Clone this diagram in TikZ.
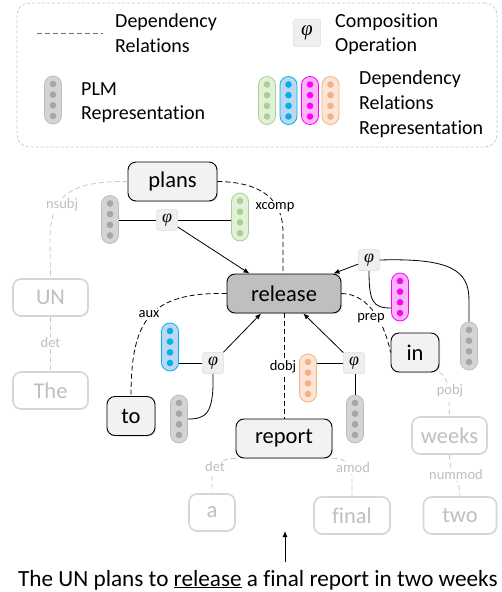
\documentclass[tikz,border=0pt]{standalone}
\usepackage{fontspec}
\setmainfont{Carlito}[Ligatures=NoCommon]
\newfontfamily\phifont{Liberation Serif}
\usetikzlibrary{arrows.meta,calc,shadows}
\definecolor{boxfill}{HTML}{F2F2F2}
\definecolor{relfill}{HTML}{BFBFBF}
\definecolor{fadeline}{HTML}{D6D6D6}
\definecolor{fadetext}{HTML}{BFBFBF}
\definecolor{fadedash}{HTML}{C8C8C8}
\definecolor{phifill}{HTML}{EFEFEF}
\definecolor{phiborder}{HTML}{DDDDDD}
\definecolor{grayfill}{HTML}{D4D4D4}
\definecolor{graydot}{HTML}{A6A6A6}
\definecolor{grayborder}{HTML}{BDBDBD}
\definecolor{greenfill}{HTML}{E2F0D9}
\definecolor{greendot}{HTML}{A9D18E}
\definecolor{bluefill}{HTML}{BDD7EE}
\definecolor{bluedot}{HTML}{00B0F0}
\definecolor{magfill}{HTML}{F9B6F5}
\definecolor{magdot}{HTML}{FF00FF}
\definecolor{orangefill}{HTML}{FBE5D6}
\definecolor{orangedot}{HTML}{F4B183}
\definecolor{legendline}{HTML}{C8C8C8}
\newcommand{\vpill}[5]{%
  \node[pillbox, fill=#3, draw=#5] (#1) at (#2) {};
  \foreach \dy in {-16,-5.33,5.33,16} \fill[#4] ($(#1)+(0,\dy)$) circle (3.3pt);
}
\newcommand{\phisym}{{\phifont\itshape φ}}
\begin{document}
\begin{tikzpicture}[x=1pt,y=-1pt,
  word/.style={draw=black, line width=0.9pt, rounded corners=8pt, fill=boxfill, inner sep=0pt,
    font=\fontsize{22.5}{26}\selectfont, minimum height=39pt,
    drop shadow={opacity=0.25, shadow xshift=1pt, shadow yshift=-1pt}},
  faded/.style={draw=fadeline, line width=1.6pt, rounded corners=8pt, fill=white, text=fadetext,
    inner sep=0pt, font=\fontsize{22.5}{26}\selectfont, minimum height=37pt,
    drop shadow={opacity=0.12, shadow xshift=0.8pt, shadow yshift=-0.8pt}},
  phibox/.style={fill=phifill, draw=phiborder, line width=0.5pt, rounded corners=2pt,
    minimum size=21pt, inner sep=0pt, font=\fontsize{18}{18}\selectfont},
  pillbox/.style={rectangle, minimum width=17pt, minimum height=48pt, rounded corners=8.5pt,
    inner sep=0pt, line width=0.8pt},
  rel/.style={fill=white, inner sep=1pt, font=\fontsize{14.5}{15}\selectfont},
  frel/.style={rel, text=fadetext},
  dep/.style={line width=0.8pt, dash pattern=on 5pt off 3pt},
  fdep/.style={dep, draw=fadedash},
  link/.style={line width=0.8pt},
  arr/.style={line width=0.8pt, -{Latex[length=6pt,width=5pt]}},
  legtext/.style={anchor=base west, inner sep=0pt, font=\fontsize{20}{24}\selectfont}
]
\useasboundingbox (0,0) rectangle (501,592);

% ---------------- legend ----------------
\node[draw=legendline, dash pattern=on 3pt off 2pt, line width=0.7pt, rounded corners=12pt,
  minimum width=480pt, minimum height=144pt, inner sep=0pt] (legend) at (257,75) {};
\coordinate (legA) at (37,33);
\coordinate (legB) at (103,33);
\draw[line width=0.8pt, draw=black!55, dash pattern=on 5pt off 3pt] (legA) -- (legB);
\node[legtext] (lt1) at (115,27) {Dependency};
\node[legtext] (lt2) at (115,52) {Relations};
\node[phibox, minimum size=27pt, font=\fontsize{21}{21}\selectfont] (legphi) at (307,33) {\phisym};
\node[legtext] (lt3) at (335,27) {Composition};
\node[legtext] (lt4) at (335,51) {Operation};
\vpill{lgp}{53,100}{grayfill}{graydot}{grayborder}
\node[legtext] (lt5) at (81,95) {PLM};
\node[legtext] (lt6) at (81,119) {Representation};
\vpill{lgg}{267,100.5}{greenfill}{greendot}{greendot}
\vpill{lgb}{288.5,100.5}{bluefill}{bluedot}{bluedot}
\vpill{lgm}{310,100.5}{magfill}{magdot}{magdot}
\vpill{lgo}{330.5,100.5}{orangefill}{orangedot}{orangedot}
\node[legtext] (lt7) at (359,84) {Dependency};
\node[legtext] (lt8) at (359,109) {Relations};
\node[legtext] (lt9) at (359,134) {Representation};

% ---------------- faded word nodes ----------------
\node[faded, minimum width=75pt] (UN) at (50.5,297.5) {UN};
\node[faded, minimum width=75pt] (The) at (50.5,390.5) {The};
\node[faded, minimum width=75pt] (weeks) at (449.5,435.5) {weeks};
\node[faded, minimum width=46pt] (a) at (212,512.5) {a};
\node[faded, minimum width=76pt] (final) at (352,515.5) {final};
\node[faded, minimum width=73pt] (two) at (460,515.5) {two};

% ---------------- main word nodes ----------------
\node[word, minimum width=89pt] (plans) at (172.5,181.5) {plans};
\node[word, minimum width=114pt, fill=relfill] (release) at (284,293.5) {release};
\node[word, minimum width=48pt] (to) at (131,416) {to};
\node[word, minimum width=96pt] (report) at (284,438.5) {report};
\node[word, minimum width=48pt] (in) at (415,352.5) {in};

% ---------------- dependencies ----------------
\draw[fdep] (plans.west) .. controls (70,181) and (50,195) .. (50,240) -- (UN.north);
\node[frel] (lnsubj) at (62,205) {nsubj};
\draw[fdep] (UN.south) -- (The.north);
\node[frel] (ldet1) at (50.5,343) {det};
\draw[fdep] (report.south west) .. controls (222,458) and (212,465) .. (212,480) -- (a.north);
\node[frel] (ldet2) at (215,467) {det};
\draw[fdep] (report.south east) .. controls (346,458) and (352,465) .. (352,480) -- (final.north);
\node[frel] (lamod) at (353,468) {amod};
\draw[fdep] (in.south east) .. controls (446,376) and (449,385) .. (449,400) -- (weeks.north);
\node[frel] (lpobj) at (450,391) {pobj};
\draw[fdep] (weeks.south) .. controls (450,478) and (459,472) .. (two.north);
\node[frel] (lnummod) at (456,475) {nummod};

\draw[dep] (plans.east) .. controls (262,182) and (283,200) .. (283,232) -- (283,274);
\node[rel] (lxcomp) at (275,207) {xcomp};
\draw[dep] (release.south) -- (report.north);
\node[rel] (ldobj) at (283,367) {dobj};
\draw[dep] (release.west) .. controls (150,292) and (131,320) .. (to.north);
\node[rel] (laux) at (149,314) {aux};
\draw[dep] (release.east) .. controls (370,294) and (385,325) .. (in.west);
\node[rel] (lprep) at (371,318) {prep};

% ---------------- representations ----------------
\vpill{gp1}{110,219.5}{grayfill}{graydot}{grayborder}
\vpill{gr1}{240,217}{greenfill}{greendot}{greendot}
\vpill{mg2}{400,297}{magfill}{magdot}{magdot}
\vpill{gp2}{469,346}{grayfill}{graydot}{grayborder}
\vpill{bl3}{170,347}{bluefill}{bluedot}{bluedot}
\vpill{gp3}{179,419}{grayfill}{graydot}{grayborder}
\vpill{or4}{308,378}{orangefill}{orangedot}{orangedot}
\vpill{gp4}{355,419}{grayfill}{graydot}{grayborder}

% ---------------- composition operations ----------------
\node[phibox] (phi1) at (167,220) {\phisym};
\node[phibox] (phi2) at (369,260) {\phisym};
\node[phibox] (phi3) at (213,363) {\phisym};
\node[phibox] (phi4) at (354,363) {\phisym};

\draw[link] (phi1.west) -- (phi1.west -| gp1.east);
\draw[link] (phi1.east) -- (phi1.east -| gr1.west);
\draw[arr] (phi1) -- (release.150);

\draw[arr] (phi2) -- (release.22);
\draw[link] (phi2.south) .. controls (369,302) and (373,308) .. ([yshift=-11pt]mg2.west);
\draw[link] (phi2.east) .. controls (450,258) and (469,270) .. (469,300) -- (gp2.north);

\draw[link] (phi3.west) -- (phi3.west -| bl3.east);
\draw[link] (phi3.south) .. controls (214,414) and (206,419) .. (gp3.east);
\draw[arr] (phi3) -- (release.221);

\draw[link] (phi4.west) -- (phi4.west -| or4.east);
\draw[link] (gp4.north) -- (gp4.north |- phi4.south);
\draw[arr] (phi4) -- (release.-46);

% ---------------- sentence ----------------
\coordinate (sentA) at (285,562);
\coordinate (sentB) at (285,531);
\draw[arr] (sentA) -- (sentB);
\node[anchor=base west, inner sep=0pt, font=\fontsize{23.2}{26}\selectfont] (sentence) at (18,586)
  {The UN plans to \underline{release} a final report in two weeks};
\end{tikzpicture}
\end{document}
